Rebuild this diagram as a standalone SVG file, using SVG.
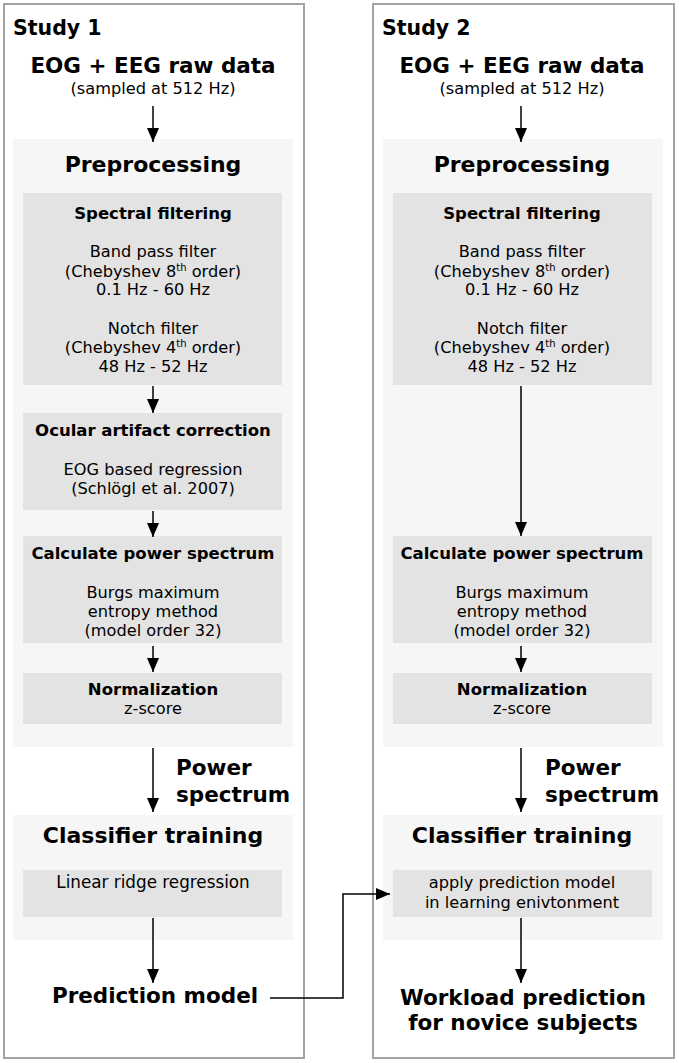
<svg xmlns="http://www.w3.org/2000/svg" width="679" height="1063" viewBox="0 0 679 1063">
<defs>
<marker id="ah" viewBox="0 0 14 12" refX="14" refY="6" markerWidth="14" markerHeight="12" markerUnits="userSpaceOnUse" orient="auto">
<path d="M0,0 L14,6 L0,12 z" fill="#000"/>
</marker>
<style>
.outer{fill:#fff;stroke:#a3a3a3;stroke-width:2}
.light{fill:#f6f6f6}
.dark{fill:#e3e3e3}
text{font-family:"DejaVu Sans","Verdana",sans-serif;fill:#000}
.t{font-size:20.5px;font-weight:bold}
.h{font-size:21.5px;font-weight:bold;text-anchor:middle}
.hp{font-size:22px;font-weight:bold;text-anchor:middle}
.hl{font-size:21.5px;font-weight:bold}
.s{font-size:16.5px;font-weight:bold;text-anchor:middle}
.r{font-size:16.2px;text-anchor:middle}
.rl{font-size:16.8px;text-anchor:middle}
.sup{font-size:10px}
.c{fill:none;stroke:#000;stroke-width:1.5;marker-end:url(#ah)}
</style>
</defs>

<g id="study1">
<rect class="outer" x="4" y="4" width="300" height="1054"/>
<text class="t" x="13" y="35">Study 1</text>
</g>
<g id="study2">
<rect class="outer" x="373" y="4" width="301" height="1054"/>
<text class="t" x="382" y="35">Study 2</text>
</g>

<g id="raw1">
<text class="h" x="153" y="73">EOG + EEG raw data</text>
<text class="r" x="153" y="94">(sampled at 512 Hz)</text>
</g>
<g id="raw2">
<text class="h" x="522" y="73">EOG + EEG raw data</text>
<text class="r" x="522" y="94">(sampled at 512 Hz)</text>
</g>

<g id="prep1">
<rect class="light" x="13" y="139" width="280" height="608"/>
<text class="hp" x="153" y="172">Preprocessing</text>
</g>
<g id="prep2">
<rect class="light" x="383" y="139" width="280" height="608"/>
<text class="hp" x="522" y="172">Preprocessing</text>
</g>

<g id="spec1">
<rect class="dark" x="23" y="193" width="259" height="192"/>
<text class="s" x="153" y="219">Spectral filtering</text>
<text class="r" x="153" y="257">Band pass filter</text>
<text class="r" x="153" y="277">(Chebyshev 8<tspan class="sup" dy="-6">th</tspan><tspan dy="6"> order)</tspan></text>
<text class="r" x="153" y="295">0.1 Hz - 60 Hz</text>
<text class="r" x="153" y="334">Notch filter</text>
<text class="r" x="153" y="353">(Chebyshev 4<tspan class="sup" dy="-6">th</tspan><tspan dy="6"> order)</tspan></text>
<text class="r" x="153" y="372">48 Hz - 52 Hz</text>
</g>
<g id="spec2">
<rect class="dark" x="393" y="193" width="259" height="192"/>
<text class="s" x="522" y="219">Spectral filtering</text>
<text class="r" x="522" y="257">Band pass filter</text>
<text class="r" x="522" y="277">(Chebyshev 8<tspan class="sup" dy="-6">th</tspan><tspan dy="6"> order)</tspan></text>
<text class="r" x="522" y="295">0.1 Hz - 60 Hz</text>
<text class="r" x="522" y="334">Notch filter</text>
<text class="r" x="522" y="353">(Chebyshev 4<tspan class="sup" dy="-6">th</tspan><tspan dy="6"> order)</tspan></text>
<text class="r" x="522" y="372">48 Hz - 52 Hz</text>
</g>

<g id="ocular1">
<rect class="dark" x="23" y="413" width="259" height="97"/>
<text class="s" x="153" y="436">Ocular artifact correction</text>
<text class="r" x="153" y="475">EOG based regression</text>
<text class="r" x="153" y="494">(Schlögl et al. 2007)</text>
</g>

<g id="calc1">
<rect class="dark" x="23" y="536" width="259" height="107"/>
<text class="s" x="153" y="559">Calculate power spectrum</text>
<text class="r" x="153" y="598">Burgs maximum</text>
<text class="r" x="153" y="617">entropy method</text>
<text class="r" x="153" y="636">(model order 32)</text>
</g>
<g id="calc2">
<rect class="dark" x="393" y="536" width="259" height="107"/>
<text class="s" x="522" y="559">Calculate power spectrum</text>
<text class="r" x="522" y="598">Burgs maximum</text>
<text class="r" x="522" y="617">entropy method</text>
<text class="r" x="522" y="636">(model order 32)</text>
</g>

<g id="norm1">
<rect class="dark" x="23" y="673" width="259" height="51"/>
<text class="s" x="153" y="695">Normalization</text>
<text class="r" x="153" y="714">z-score</text>
</g>
<g id="norm2">
<rect class="dark" x="393" y="673" width="259" height="51"/>
<text class="s" x="522" y="695">Normalization</text>
<text class="r" x="522" y="714">z-score</text>
</g>

<g id="power1">
<text class="hl" x="176" y="775">Power</text>
<text class="hl" x="176" y="802">spectrum</text>
</g>
<g id="power2">
<text class="hl" x="545" y="775">Power</text>
<text class="hl" x="545" y="802">spectrum</text>
</g>

<g id="clf1">
<rect class="light" x="13" y="815" width="280" height="125"/>
<text class="hp" x="153" y="843">Classifier training</text>
<rect class="dark" x="23" y="870" width="259" height="47"/>
<text class="rl" x="153" y="888">Linear ridge regression</text>
</g>
<g id="clf2">
<rect class="light" x="383" y="815" width="280" height="125"/>
<text class="hp" x="522" y="843">Classifier training</text>
<rect class="dark" x="393" y="870" width="259" height="47"/>
<text class="r" x="522" y="888">apply prediction model</text>
<text class="r" x="522" y="908">in learning enivtonment</text>
</g>

<g id="model">
<text class="h" x="155" y="1003">Prediction model</text>
</g>
<g id="workload">
<text class="h" x="523" y="1005">Workload prediction</text>
<text class="h" x="523" y="1030">for novice subjects</text>
</g>

<g id="connectors">
<line class="c" x1="153" y1="106" x2="153" y2="142"/>
<line class="c" x1="521" y1="106" x2="521" y2="142"/>
<line class="c" x1="153" y1="386" x2="153" y2="413"/>
<line class="c" x1="153" y1="511" x2="153" y2="537"/>
<line class="c" x1="153" y1="646" x2="153" y2="672"/>
<line class="c" x1="521" y1="386" x2="521" y2="536"/>
<line class="c" x1="521" y1="646" x2="521" y2="672"/>
<line class="c" x1="153" y1="748" x2="153" y2="812"/>
<line class="c" x1="521" y1="748" x2="521" y2="812"/>
<line class="c" x1="153" y1="918" x2="153" y2="983"/>
<line class="c" x1="521" y1="918" x2="521" y2="983"/>
<polyline class="c" points="270,998 343,998 343,894 390,894"/>
</g>
</svg>
